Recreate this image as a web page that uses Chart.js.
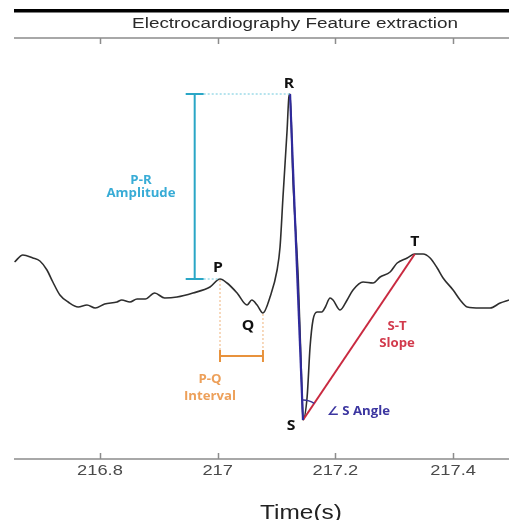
<!DOCTYPE html>
<html>
<head>
<meta charset="utf-8">
<script src="https://cdn.jsdelivr.net/npm/chart.js@4"></script>
<style>
  html, body { margin: 0; padding: 0; background: #fff; }
  #wrap { width: 509px; height: 520px; }
</style>
</head>
<body>
<div id="wrap"><canvas id="ecgChart" width="509" height="520"></canvas></div>
<script>
// ECG trace (time in s, amplitude in mV)
const timeS = [216.655, 216.669, 216.686, 216.698, 216.710, 216.720, 216.732, 216.746, 216.763, 216.778,
    216.792, 216.808, 216.829, 216.837, 216.851, 216.863, 216.877, 216.893, 216.910, 216.931,
    216.958, 216.987, 217.004, 217.016, 217.033, 217.050, 217.058, 217.067, 217.077, 217.089,
    217.101, 217.106, 217.111, 217.118, 217.121, 217.123, 217.128, 217.137, 217.143, 217.145,
    217.152, 217.157, 217.162, 217.169, 217.177, 217.183, 217.191, 217.196, 217.208, 217.220,
    217.230, 217.247, 217.264, 217.276, 217.293, 217.305, 217.322, 217.335, 217.349, 217.361,
    217.373, 217.383, 217.400, 217.412, 217.424, 217.446, 217.463, 217.480, 217.495];
const ecgMv = [0.04, 0.075, 0.06, 0.045, 0.00, -0.06, -0.125, -0.16, -0.185, -0.175,
    -0.19, -0.17, -0.16, -0.15, -0.16, -0.145, -0.145, -0.115, -0.14, -0.135,
    -0.115, -0.085, -0.045, -0.065, -0.115, -0.175, -0.15, -0.175, -0.215, -0.135,
    0.00, 0.115, 0.365, 0.70, 0.865, 0.88, 0.45, -0.05, -0.585, -0.75,
    -0.635, -0.385, -0.25, -0.21, -0.21, -0.185, -0.14, -0.15, -0.20, -0.15,
    -0.10, -0.06, -0.065, -0.035, -0.01, 0.035, 0.06, 0.08, 0.08, 0.06,
    0.01, -0.04, -0.10, -0.15, -0.185, -0.19, -0.19, -0.165, -0.15];

// wave points P, Q, R, S, T
const waveNames = ['P', 'Q', 'R', 'S', 'T'];
const waveTimes = [217.004, 217.077, 217.123, 217.145, 217.335];
const waveMv = [-0.045, -0.215, 0.88, -0.75, 0.08];

const tickValues = [216.8, 217, 217.2, 217.4];
const tickLabels = ['216.8', '217', '217.2', '217.4'];
const titleText = 'Electrocardiography Feature extraction';
const xTitle = 'Time(s)';

function wave(name) {
    const i = waveNames.indexOf(name);
    return { x: waveTimes[i], y: waveMv[i] };
}

const SX = 1.22; // the picture is stretched sideways a little
function stretchText(ctx, text, x, y, sx) {
    ctx.save();
    ctx.translate(x, y);
    ctx.scale(sx, 1);
    ctx.fillText(text, 0, 0);
    ctx.restore();
}

const framePlugin = {
    id: 'frame',
    beforeDraw(chart) {
        const ctx = chart.ctx;
        const xs = chart.scales.x;
        const area = chart.chartArea;
        ctx.save();
        ctx.fillStyle = '#fff';
        ctx.fillRect(0, 0, chart.width, chart.height);
        // heavy bar from the panel above
        ctx.fillStyle = '#000';
        ctx.fillRect(area.left, 9, area.right - area.left, 3.5);

        ctx.strokeStyle = '#8c8c8c';
        ctx.lineWidth = 1.5;
        ctx.beginPath();
        ctx.moveTo(area.left, area.top); ctx.lineTo(area.right, area.top);
        ctx.moveTo(area.left, area.bottom); ctx.lineTo(area.right, area.bottom);
        tickValues.forEach(v => {
            const px = Math.round(xs.getPixelForValue(v)) + 0.5;
            ctx.moveTo(px, area.top); ctx.lineTo(px, area.top + 6);
            ctx.moveTo(px, area.bottom); ctx.lineTo(px, area.bottom - 6);
        });
        ctx.stroke();

        ctx.fillStyle = '#4a4a4a';
        ctx.textAlign = 'center';
        ctx.textBaseline = 'alphabetic';
        ctx.font = '15px "Liberation Sans", Arial, sans-serif';
        tickValues.forEach((v, i) => {
            stretchText(ctx, tickLabels[i], xs.getPixelForValue(v), area.bottom + 16, SX);
        });
        ctx.fillStyle = '#2a2a2a';
        ctx.font = '15.5px "Liberation Sans", Arial, sans-serif';
        stretchText(ctx, titleText, 295, 28, SX);
        ctx.fillStyle = '#222';
        ctx.font = '20px "Liberation Sans", Arial, sans-serif';
        stretchText(ctx, xTitle, 301, 519, SX);
        ctx.restore();
    }
};

const notePlugin = {
    id: 'notes',
    afterDatasetsDraw(chart) {
        const ctx = chart.ctx;
        const xs = chart.scales.x, ys = chart.scales.y;
        const px = p => ({ x: xs.getPixelForValue(p.x), y: ys.getPixelForValue(p.y) });
        const P = px(wave('P')), Q = px(wave('Q')), R = px(wave('R')), S = px(wave('S')), T = px(wave('T'));
        ctx.save();

        // P-R amplitude bracket
        const cyan = '#2aa6c6';
        const bx = xs.getPixelForValue(216.961);
        ctx.strokeStyle = cyan;
        ctx.lineWidth = 2;
        ctx.beginPath();
        ctx.moveTo(bx, R.y); ctx.lineTo(bx, P.y);
        ctx.moveTo(bx - 9, R.y); ctx.lineTo(bx + 9, R.y);
        ctx.moveTo(bx - 9, P.y); ctx.lineTo(bx + 9, P.y);
        ctx.stroke();
        ctx.lineWidth = 1;
        ctx.setLineDash([2, 2]);
        ctx.strokeStyle = '#6cc8dc';
        ctx.beginPath();
        ctx.moveTo(bx + 9, R.y); ctx.lineTo(R.x, R.y);
        ctx.moveTo(bx + 9, P.y); ctx.lineTo(P.x, P.y);
        ctx.stroke();

        // P-Q interval
        const orange = '#e8923c';
        const iy = ys.getPixelForValue(-0.43);
        ctx.strokeStyle = '#eeb27a';
        ctx.beginPath();
        ctx.moveTo(P.x, P.y + 1); ctx.lineTo(P.x, iy + 4);
        ctx.moveTo(Q.x, Q.y + 1); ctx.lineTo(Q.x, iy + 4);
        ctx.stroke();
        ctx.setLineDash([]);
        ctx.strokeStyle = orange;
        ctx.lineWidth = 2;
        ctx.beginPath();
        ctx.moveTo(P.x, iy); ctx.lineTo(Q.x, iy);
        ctx.moveTo(P.x, iy - 6); ctx.lineTo(P.x, iy + 6);
        ctx.moveTo(Q.x, iy - 6); ctx.lineTo(Q.x, iy + 6);
        ctx.stroke();

        // angle arc at S
        const a1 = Math.atan2(R.y - S.y, R.x - S.x);
        const a2 = Math.atan2(T.y - S.y, T.x - S.x);
        ctx.strokeStyle = '#3a3496';
        ctx.lineWidth = 1.5;
        ctx.beginPath();
        ctx.arc(S.x, S.y, 20, a1, a2);
        ctx.stroke();

        // texts
        ctx.textAlign = 'center';
        ctx.textBaseline = 'middle';
        ctx.fillStyle = '#111';
        ctx.font = 'bold 15px "Open Sans", "DejaVu Sans", sans-serif';
        stretchText(ctx, 'P', P.x - 2, P.y - 11, 1.05);
        stretchText(ctx, 'Q', Q.x - 15, Q.y + 13, 1.05);
        stretchText(ctx, 'R', R.x - 1, R.y - 10, 1.05);
        stretchText(ctx, 'S', S.x - 12, S.y + 6, 1.05);
        stretchText(ctx, 'T', T.x, T.y - 12, 1.05);

        ctx.font = 'bold 12px "Open Sans", "DejaVu Sans", sans-serif';
        ctx.fillStyle = '#38acd6';
        stretchText(ctx, 'P-R', 141, 181, 1.1);
        stretchText(ctx, 'Amplitude', 141, 194, 1.1);
        ctx.fillStyle = '#eda05a';
        stretchText(ctx, 'P-Q', 210, 380, 1.1);
        stretchText(ctx, 'Interval', 210, 397, 1.1);
        ctx.fillStyle = '#d23a4c';
        stretchText(ctx, 'S-T', 397, 327, 1.1);
        stretchText(ctx, 'Slope', 397, 344, 1.1);
        ctx.fillStyle = '#3c36a0';
        ctx.textAlign = 'left';
        stretchText(ctx, '\u2220 S Angle', 327, 412, 1.1);
        ctx.restore();
    }
};

document.addEventListener('DOMContentLoaded', function () {
    const ctx = document.getElementById('ecgChart').getContext('2d');
    new Chart(ctx, {
        type: 'line',
        data: {
            datasets: [
                {
                    label: 'ECG',
                    data: timeS.map((t, i) => ({ x: t, y: ecgMv[i] })),
                    borderColor: '#2e2e2e',
                    borderWidth: 1.6,
                    pointRadius: 0,
                    cubicInterpolationMode: 'monotone',
                    order: 3
                },
                {
                    label: 'R-S',
                    data: [wave('R'), wave('S')],
                    borderColor: '#2f2a9c',
                    borderWidth: 2.2,
                    pointRadius: 0,
                    order: 1
                },
                {
                    label: 'S-T',
                    data: [wave('S'), wave('T')],
                    borderColor: '#c92a40',
                    borderWidth: 2,
                    pointRadius: 0,
                    order: 1
                }
            ]
        },
        options: {
            responsive: false,
            animation: false,
            layout: { padding: { left: 14, right: 0, top: 38, bottom: 61 } },
            plugins: { legend: { display: false }, tooltip: { enabled: false } },
            scales: {
                x: { type: 'linear', min: 216.654, max: 217.495, display: false },
                y: { type: 'linear', min: -0.945, max: 1.16, display: false }
            }
        },
        plugins: [framePlugin, notePlugin]
    });
});
</script>
</body>
</html>
